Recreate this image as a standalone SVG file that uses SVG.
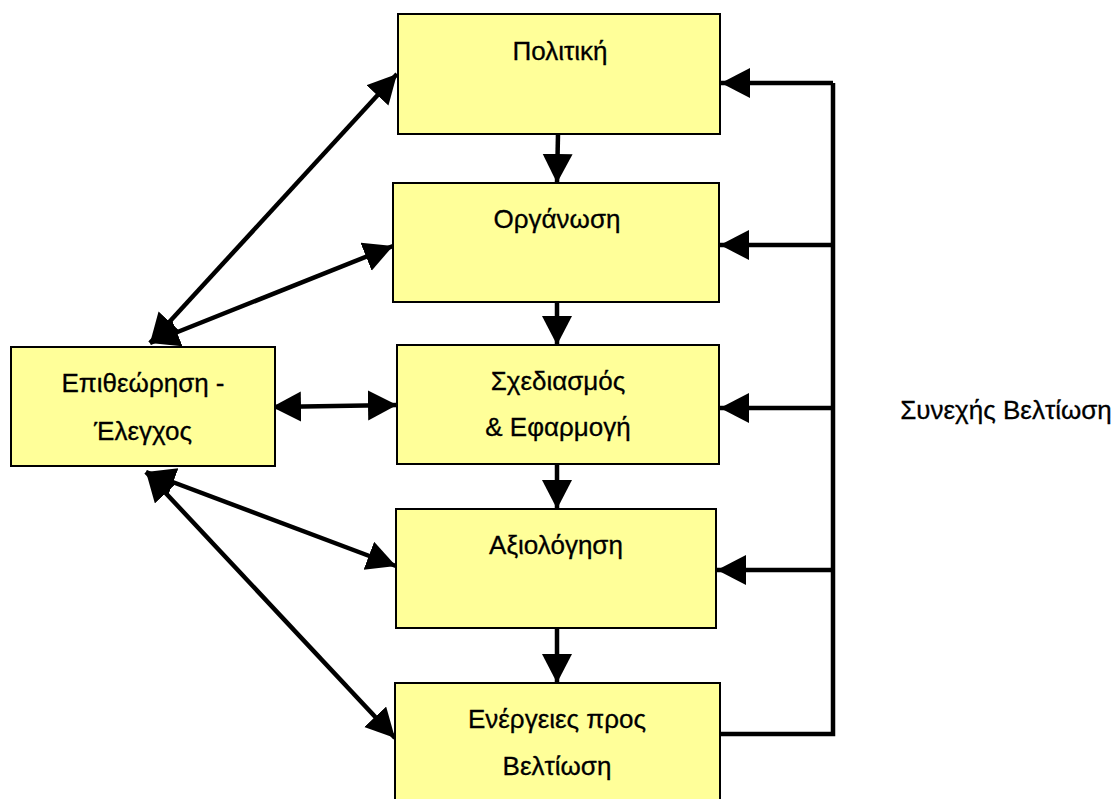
<svg xmlns="http://www.w3.org/2000/svg" width="1118" height="799" viewBox="0 0 1118 799">
<style>
.box{fill:#ffff99;stroke:#000;stroke-width:2}
.t{font-family:"Liberation Sans",Arial,sans-serif;font-size:26px;fill:#000;text-anchor:middle;stroke:#000;stroke-width:0.3}
.c{stroke:#000;stroke-width:4.5;fill:none}
.a{marker-end:url(#ah)}
.d{marker-start:url(#ah);marker-end:url(#ah)}
</style>
<defs>
<marker id="ah" markerUnits="userSpaceOnUse" markerWidth="32" markerHeight="32" refX="29" refY="15" orient="auto-start-reverse">
<path d="M0,0 L29,15 L0,30 z" fill="#000"/>
</marker>
</defs>
<rect width="1118" height="799" fill="#fff"/>
<g id="connectors">
<line class="c a" x1="558" y1="134" x2="557" y2="183"/>
<line class="c a" x1="557" y1="302" x2="557" y2="345"/>
<line class="c a" x1="557" y1="464" x2="557" y2="509"/>
<line class="c a" x1="557" y1="628" x2="557" y2="683"/>
<polyline class="c" points="720,734 833,734 833,83"/>
<line class="c a" x1="833" y1="83" x2="721" y2="83"/>
<line class="c a" x1="833" y1="245" x2="720" y2="245"/>
<line class="c a" x1="833" y1="408" x2="720" y2="408"/>
<line class="c a" x1="833" y1="570" x2="717" y2="570"/>
<line class="c d" x1="150" y1="343" x2="397" y2="74"/>
<line class="c d" x1="150" y1="343" x2="393" y2="246"/>
<line class="c d" x1="272" y1="407" x2="397" y2="405"/>
<line class="c d" x1="146" y1="472" x2="396" y2="566"/>
<line class="c d" x1="146" y1="472" x2="395" y2="738"/>
</g>
<g id="n1"><rect class="box" x="398" y="14" width="322" height="120"/><text class="t" x="560" y="60">Πολιτική</text></g>
<g id="n2"><rect class="box" x="393" y="183" width="326" height="119"/><text class="t" x="557" y="228">Οργάνωση</text></g>
<g id="n3"><rect class="box" x="397" y="345" width="322" height="119"/><text class="t" x="558" y="390">Σχεδιασμός</text><text class="t" x="558" y="436">&amp; Εφαρμογή</text></g>
<g id="n4"><rect class="box" x="396" y="509" width="320" height="119"/><text class="t" x="556" y="554">Αξιολόγηση</text></g>
<g id="n5"><rect class="box" x="395" y="683" width="325" height="125"/><text class="t" x="557" y="728">Ενέργειες προς</text><text class="t" x="557" y="775">Βελτίωση</text></g>
<g id="n6"><rect class="box" x="11" y="347" width="264" height="119"/><text class="t" x="143" y="392">Επιθεώρηση -</text><text class="t" x="143" y="440">Έλεγχος</text></g>
<g id="label"><text class="t" x="1006" y="419">Συνεχής Βελτίωση</text></g>
</svg>
